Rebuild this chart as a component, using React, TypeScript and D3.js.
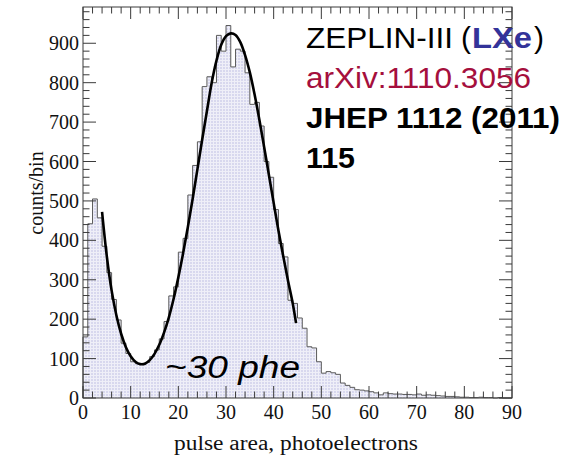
import React from 'react';
import * as d3 from 'd3';

// Histogram: bins of width 1 photoelectron from 0 to 90
const binStart = 0;
const binWidth = 1;
const counts = [
  155, 442, 505, 457, 385, 318, 250, 198, 139, 113,
  92, 87, 86, 90, 105, 122, 150, 194, 259, 282,
  370, 405, 515, 590, 650, 790, 815, 800, 920, 880,
  945, 840, 885, 880, 825, 745, 750, 690, 600, 560,
  478, 392, 358, 248, 240, 203, 177, 130, 127, 92,
  63, 67, 64, 60, 38, 32, 27, 21, 20, 18,
  16, 13, 8, 13, 11, 10, 10, 9, 9, 8,
  10, 7, 8, 7, 6, 5, 4, 4, 3, 2,
  2, 1, 1, 2, 1, 1, 0, 1, 0, 0,
];

// Fit curve
const fitX = [4, 5, 6, 7, 8, 9, 10, 11, 12, 13, 14, 15, 16, 17, 18, 19, 20, 21, 22, 23, 24, 25, 26, 27, 28, 29, 30, 31, 32, 33, 34, 35, 36, 37, 38, 39, 40, 41, 42, 43, 44, 44.7];
const fitY = [472, 359, 273, 210, 163, 129, 106, 92, 86, 87, 96, 112, 135, 166, 204, 251, 306, 367, 434, 505, 580, 655, 728, 800, 856, 896, 918, 925, 921, 903, 870, 826, 770, 706, 637, 566, 495, 425, 360, 298, 240, 190];

const xTicks = [0, 10, 20, 30, 40, 50, 60, 70, 80, 90];
const yTicks = [0, 100, 200, 300, 400, 500, 600, 700, 800, 900];
const xDomain = [0, 90];
const yDomain = [0, 992];

const W = 577;
const H = 455;
const left = 83, right = 512, top = 7, bottom = 398;

export default function App() {
  const x = d3.scaleLinear().domain(xDomain).range([left, right]);
  const y = d3.scaleLinear().domain(yDomain).range([bottom, top]);

  const pts: [number, number][] = [[x(binStart), y(0)]];
  counts.forEach((c, i) => {
    const x0 = binStart + i * binWidth;
    pts.push([x(x0), y(c)]);
    pts.push([x(x0 + binWidth), y(c)]);
  });
  pts.push([x(binStart + counts.length * binWidth), y(0)]);
  const histPath = d3.line()(pts) || '';

  const fitPath = d3
    .line<number>()
    .x((_, i) => x(fitX[i]))
    .y((d) => y(d))
    .curve(d3.curveCatmullRom)(fitY) || '';

  const xMinor = d3.range(0, 90.001, 2);
  const yMinor = d3.range(0, 990, 20);
  const axisColor = '#3a3a3a';
  const majLen = 12, minLen = 6.5;

  return (
    <svg width={W} height={H} style={{ position: 'absolute', left: 0, top: 0, background: '#fff' }}>
      <defs>
        <pattern id="mesh" width="3" height="3" patternUnits="userSpaceOnUse">
          <rect width="3" height="3" fill="#d8d8ee" />
          <path d="M0 0.5 H3 M0.5 0 V3" stroke="#ffffff" strokeWidth="1" opacity="0.6" />
        </pattern>
      </defs>
      <rect x={0} y={0} width={W} height={H} fill="#fff" />
      <path d={histPath} fill="url(#mesh)" stroke="none" />
      <path d={histPath} fill="none" stroke="#5a5a5a" strokeWidth={1} />
      <path d={fitPath} fill="none" stroke="#000" strokeWidth={2.6} />

      <rect x={left} y={top} width={right - left} height={bottom - top} fill="none" stroke={axisColor} strokeWidth={1} />
      {xMinor.map((v) => {
        const isMaj = xTicks.includes(v);
        const L = isMaj ? majLen : minLen;
        return (
          <g key={'xt' + v} stroke={axisColor} strokeWidth={1}>
            <line x1={x(v)} x2={x(v)} y1={bottom} y2={bottom - L} />
            <line x1={x(v)} x2={x(v)} y1={top} y2={top + L} />
          </g>
        );
      })}
      {yMinor.map((v) => {
        const isMaj = yTicks.includes(v);
        const L = isMaj ? majLen + 1 : minLen;
        return (
          <g key={'yt' + v} stroke={axisColor} strokeWidth={1}>
            <line x1={left} x2={left + L} y1={y(v)} y2={y(v)} />
            <line x1={right} x2={right - L} y1={y(v)} y2={y(v)} />
          </g>
        );
      })}

      <g fontFamily="'Liberation Serif', serif" fontSize={20} fill="#111">
        {xTicks.map((v) => (
          <text key={'xl' + v} x={x(v)} y={419} textAnchor="middle">{v}</text>
        ))}
        {yTicks.map((v) => (
          <text key={'yl' + v} x={79} y={y(v) + 7} textAnchor="end">{v}</text>
        ))}
      </g>

      <text x={174} y={450} fontFamily="'Liberation Serif', serif" fontSize={20} fill="#111" textLength={244} lengthAdjust="spacingAndGlyphs">
        pulse area, photoelectrons
      </text>
      <text transform="translate(42.5,193) rotate(-90)" textAnchor="middle" fontFamily="'Liberation Serif', serif" fontSize={20} fill="#111">
        counts/bin
      </text>

      <text x={165} y={378} fontFamily="'Liberation Sans', Arial, sans-serif" fontStyle="italic" fontSize={31} fill="#000" textLength={135} lengthAdjust="spacingAndGlyphs">
        ~30 phe
      </text>

      <g fontFamily="'Liberation Sans', Arial, sans-serif" fontSize={30}>
        <text x={306} y={48} fill="#000" textLength={147} lengthAdjust="spacingAndGlyphs">ZEPLIN-III</text>
        <text x={461} y={48} fill="#000">(</text>
        <text x={472} y={48} fill="#333399" fontWeight="bold" textLength={60} lengthAdjust="spacingAndGlyphs">LXe</text>
        <text x={534} y={48} fill="#000">)</text>
        <text x={306} y={88} fill="#a50f3d" textLength={225} lengthAdjust="spacingAndGlyphs">arXiv:1110.3056</text>
        <text x={306} y={128} fill="#000" fontWeight="bold" textLength={254} lengthAdjust="spacingAndGlyphs">JHEP 1112 (2011)</text>
        <text x={306} y={168} fill="#000" fontWeight="bold" textLength={49} lengthAdjust="spacingAndGlyphs">115</text>
      </g>
    </svg>
  );
}
